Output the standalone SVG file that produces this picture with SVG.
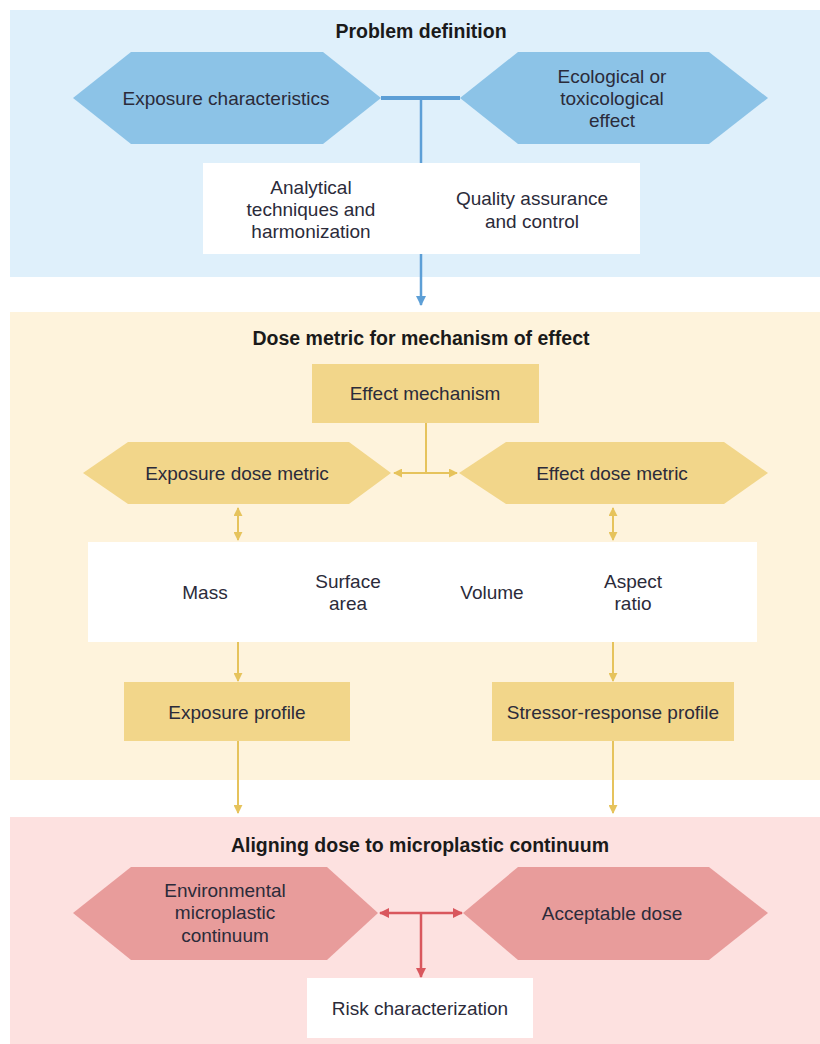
<svg xmlns="http://www.w3.org/2000/svg" width="820" height="1044" viewBox="0 0 820 1044">
<defs>
<style>
.t{font-family:"Liberation Sans",Arial,sans-serif;font-size:19px;fill:#2b2b3a;text-anchor:middle;dominant-baseline:central}
.h{font-family:"Liberation Sans",Arial,sans-serif;font-size:19.5px;font-weight:bold;fill:#1a1a1a;text-anchor:middle;dominant-baseline:central}
.bl{stroke:#5d9fd6;fill:none}
.yl{stroke:#e6c35c;fill:none;stroke-width:2}
.rl{stroke:#d9575d;fill:none;stroke-width:2.5}
</style>
<marker id="ab" viewBox="0 0 10 10" refX="9" refY="5" markerWidth="4" markerHeight="4" orient="auto-start-reverse" markerUnits="strokeWidth"><path d="M0,0 L10,5 L0,10 z" fill="#5d9fd6"/></marker>
<marker id="ay" viewBox="0 0 10 10" refX="9" refY="5" markerWidth="4.5" markerHeight="4.5" orient="auto-start-reverse" markerUnits="strokeWidth"><path d="M0,0 L10,5 L0,10 z" fill="#e6c35c"/></marker>
<marker id="ar" viewBox="0 0 10 10" refX="9" refY="5" markerWidth="4" markerHeight="4" orient="auto-start-reverse" markerUnits="strokeWidth"><path d="M0,0 L10,5 L0,10 z" fill="#d9575d"/></marker>
</defs>
<rect width="820" height="1044" fill="#ffffff"/>
<g id="panels">
<rect x="10" y="10" width="810" height="267" fill="#dff0fb"/>
<rect x="10" y="312" width="810" height="468" fill="#fef3dc"/>
<rect x="10" y="817" width="810" height="227" fill="#fde1e0"/>
</g>
<g id="titles">
<text class="h" x="421" y="31">Problem definition</text>
<text class="h" x="421" y="338">Dose metric for mechanism of effect</text>
<text class="h" x="420" y="845">Aligning dose to microplastic continuum</text>
</g>
<g id="connectors">
<line class="bl" x1="381" y1="98" x2="460" y2="98" stroke-width="4"/>
<line class="bl" x1="421" y1="98" x2="421" y2="305" stroke-width="2.5" marker-end="url(#ab)"/>
<line class="yl" x1="426" y1="423" x2="426" y2="473"/>
<line class="yl" x1="394" y1="473" x2="457" y2="473" marker-start="url(#ay)" marker-end="url(#ay)"/>
<line class="yl" x1="238" y1="508" x2="238" y2="540" marker-start="url(#ay)" marker-end="url(#ay)"/>
<line class="yl" x1="613" y1="508" x2="613" y2="540" marker-start="url(#ay)" marker-end="url(#ay)"/>
<line class="yl" x1="238" y1="642" x2="238" y2="681" marker-end="url(#ay)"/>
<line class="yl" x1="613" y1="642" x2="613" y2="681" marker-end="url(#ay)"/>
<line class="yl" x1="238" y1="741" x2="238" y2="813" marker-end="url(#ay)"/>
<line class="yl" x1="613" y1="741" x2="613" y2="813" marker-end="url(#ay)"/>
<line class="rl" x1="380" y1="913" x2="462" y2="913" marker-start="url(#ar)" marker-end="url(#ar)"/>
<line class="rl" x1="421" y1="913" x2="421" y2="977" marker-end="url(#ar)"/>
</g>
<g id="exposure-characteristics">
<polygon points="73,98 131,52 323,52 381,98 323,144 131,144" fill="#8cc3e7"/>
<text class="t" x="226" y="98">Exposure characteristics</text>
</g>
<g id="ecological-effect">
<polygon points="460,98 518,52 709,52 768,98 709,144 518,144" fill="#8cc3e7"/>
<text class="t" x="612" y="76">Ecological or</text>
<text class="t" x="612" y="98">toxicological</text>
<text class="t" x="612" y="120">effect</text>
</g>
<g id="analytical-quality">
<rect x="203" y="163" width="437" height="91" fill="#ffffff"/>
<text class="t" x="311" y="187">Analytical</text>
<text class="t" x="311" y="209">techniques and</text>
<text class="t" x="311" y="231">harmonization</text>
<text class="t" x="532" y="198">Quality assurance</text>
<text class="t" x="532" y="221">and control</text>
</g>
<g id="effect-mechanism">
<rect x="312" y="364" width="227" height="59" fill="#f2d68a"/>
<text class="t" x="425" y="393">Effect mechanism</text>
</g>
<g id="exposure-dose-metric">
<polygon points="83,473 128,442 349,442 391,473 349,504 128,504" fill="#f2d68a"/>
<text class="t" x="237" y="473">Exposure dose metric</text>
</g>
<g id="effect-dose-metric">
<polygon points="459,473 506,442 724,442 768,473 724,504 506,504" fill="#f2d68a"/>
<text class="t" x="612" y="473">Effect dose metric</text>
</g>
<g id="metrics">
<rect x="88" y="542" width="669" height="100" fill="#ffffff"/>
<text class="t" x="205" y="592">Mass</text>
<text class="t" x="348" y="581">Surface</text>
<text class="t" x="348" y="603">area</text>
<text class="t" x="492" y="592">Volume</text>
<text class="t" x="633" y="581">Aspect</text>
<text class="t" x="633" y="603">ratio</text>
</g>
<g id="exposure-profile">
<rect x="124" y="682" width="226" height="59" fill="#f2d68a"/>
<text class="t" x="237" y="712">Exposure profile</text>
</g>
<g id="stressor-response-profile">
<rect x="492" y="682" width="242" height="59" fill="#f2d68a"/>
<text class="t" x="613" y="712">Stressor-response profile</text>
</g>
<g id="environmental-continuum">
<polygon points="73,913 131,867 327,867 378,913 327,960 131,960" fill="#e89c9b"/>
<text class="t" x="225" y="890">Environmental</text>
<text class="t" x="225" y="912">microplastic</text>
<text class="t" x="225" y="935">continuum</text>
</g>
<g id="acceptable-dose">
<polygon points="463,913 518,867 709,867 768,913 709,960 518,960" fill="#e89c9b"/>
<text class="t" x="612" y="913">Acceptable dose</text>
</g>
<g id="risk-characterization">
<rect x="307" y="978" width="226" height="60" fill="#ffffff"/>
<text class="t" x="420" y="1008">Risk characterization</text>
</g>
</svg>
